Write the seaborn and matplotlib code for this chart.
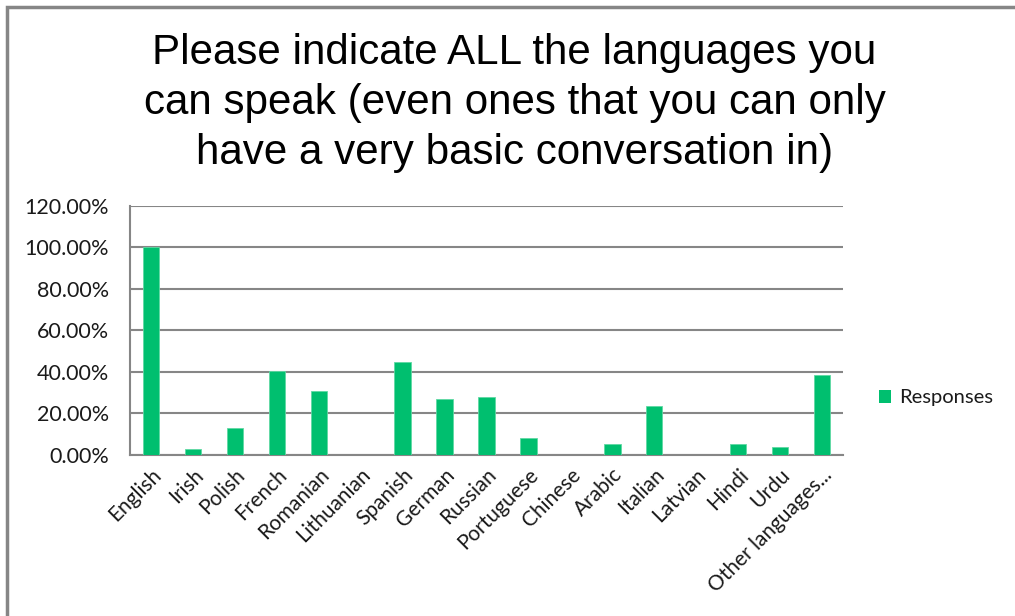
import matplotlib
matplotlib.use("Agg")
import matplotlib.pyplot as plt
from matplotlib.patches import Rectangle
from matplotlib.ticker import FuncFormatter, FixedLocator
import seaborn as sns
import pandas as pd
import numpy as np

# Survey data: share of respondents speaking each language
languages = ["English", "Irish", "Polish", "French", "Romanian", "Lithuanian",
             "Spanish", "German", "Russian", "Portuguese", "Chinese", "Arabic",
             "Italian", "Latvian", "Hindi", "Urdu", "Other languages..."]
responses = [1.000, 0.027, 0.132, 0.403, 0.308, 0.0,
             0.446, 0.270, 0.281, 0.080, 0.0, 0.053,
             0.236, 0.0, 0.053, 0.037, 0.385]
y_ticks = [0.0, 0.2, 0.4, 0.6, 0.8, 1.0, 1.2]

title = ("Please indicate ALL the languages you\n"
         "can speak (even ones that you can only\n"
         "have a very basic conversation in)")

df = pd.DataFrame({"Language": languages, "Share": responses})

sns.set_style("white")
plt.rcParams["font.family"] = ["Lato", "DejaVu Sans"]

GREEN = "#00BF6F"
GRID = "#868686"
TEXT = "#1a1a1a"

fig = plt.figure(figsize=(10.15, 6.16), dpi=100)
ax = fig.add_axes([130 / 1015, 1 - 455 / 616, (843 - 130) / 1015, (455 - 205.7) / 616])

sns.barplot(data=df, x="Language", y="Share", color=GREEN, width=0.39,
            saturation=1, edgecolor="#5fd9a3", linewidth=0.6, ax=ax, zorder=3)

ax.set_ylim(0, 1.2)
ax.set_xlim(-0.5, len(languages) - 0.5)
ax.yaxis.set_major_locator(FixedLocator(y_ticks))
ax.yaxis.set_major_formatter(FuncFormatter(lambda v, p: f"{v * 100:.2f}%"))
ax.grid(axis="y", color=GRID, linewidth=1.5, zorder=0)
ax.set_axisbelow(True)

# Category boundaries carry the tick marks; labels sit at centres
ax.set_xticks(np.arange(len(languages)))
ax.set_xticklabels(languages, rotation=45, ha="right", rotation_mode="anchor",
                   fontsize=15, color=TEXT)
ax.set_xticks(np.arange(-0.5, len(languages)), minor=True)
ax.tick_params(axis="x", which="major", length=0, pad=7)
ax.tick_params(axis="x", which="minor", length=6, width=1.5, color=GRID, direction="out")
ax.tick_params(axis="y", length=6, width=1.5, color=GRID, direction="out",
               labelsize=15.5, labelcolor=TEXT, pad=9)

for side in ("top", "right"):
    ax.spines[side].set_visible(False)
for side in ("left", "bottom"):
    ax.spines[side].set_color(GRID)
    ax.spines[side].set_linewidth(1.5)

ax.set_xlabel("")
ax.set_ylabel("")

fig.text(0.507, 1 - 103 / 616, title, ha="center", va="center", fontsize=30.3,
         family=["Liberation Sans", "DejaVu Sans"], linespacing=1.33, color="#000000")

legend_handle = Rectangle((0, 0), 1, 1, facecolor=GREEN, edgecolor="none")
fig.legend([legend_handle], ["Responses"], loc="center left",
           bbox_to_anchor=(879 / 1015, 1 - 398 / 616), frameon=False, borderpad=0,
           borderaxespad=0, fontsize=14.5, handlelength=0.58, handleheight=0.58,
           handletextpad=0.4, labelcolor=TEXT)

# Chart-area border
fig.patches.append(Rectangle((7 / 1015, -0.1), 1.2, 1 - 7 / 616 + 0.1,
                             transform=fig.transFigure, fill=False,
                             edgecolor=GRID, linewidth=2.5))

fig.savefig("out.png", dpi=100)
